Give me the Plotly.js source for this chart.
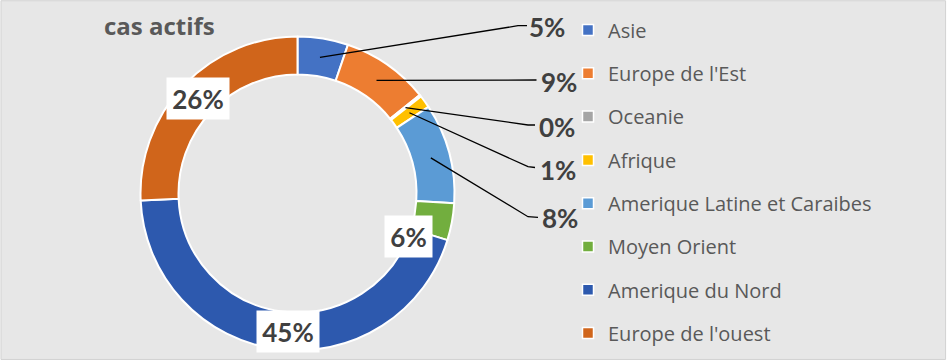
<!DOCTYPE html>
<html>
<head>
<meta charset="utf-8">
<script src="https://cdn.plot.ly/plotly-3.0.1.min.js"></script>
<style>
  html, body { margin: 0; padding: 0; background: #ffffff; }
  #chart { width: 947px; height: 362px; }
</style>
</head>
<body>
<div id="chart"></div>
<script>
// ---- data ----
const categories = ["Asie", "Europe de l'Est", "Oceanie", "Afrique",
  "Amerique Latine et Caraibes", "Moyen Orient", "Amerique du Nord", "Europe de l'ouest"];
const shares = [5.2, 9.0, 0.2, 1.3, 10.3, 3.8, 44.5, 25.7];
const pctLabels = ["5%", "9%", "0%", "1%", "8%", "6%", "45%", "26%"];
const sliceColors = ["#4472C4", "#ED7D31", "#A5A5A5", "#FFC000",
  "#5B9BD5", "#72AE3E", "#2D59AE", "#D0651B"];

// ---- layout constants (pixels) ----
const W = 947, H = 362;
const CX = 297.5, CY = 193.5, R_OUT = 157, R_IN = 119;
const R_MID = (R_OUT + R_IN) / 2;
// outside labels: leader-line bend points and label anchors
const outside = {
  0: { path: [[518, 25.7], [527, 25.7]], text: [528, 27] },
  1: { path: [[536.5, 80]], text: [539.5, 82] },
  2: { path: [[528, 125], [535, 125]], text: [538, 126.5] },
  3: { path: [[528, 166.7], [535, 167.5]], text: [538.5, 170] },
  4: { path: [[528, 216.7], [538, 217.3]], text: [541, 218] }
};
// inside labels: offsets from slice mid-point
const inside = { 5: [-25, 18], 6: [8, 1.3], 7: [0, 0] };

// slice mid-points from the values (clockwise from 12 o'clock)
const total = shares.reduce((a, b) => a + b, 0);
let cum = 0;
const mids = shares.map(v => {
  const a = (cum + v / 2) / total * 2 * Math.PI;
  cum += v;
  return [CX + R_MID * Math.sin(a), CY - R_MID * Math.cos(a)];
});

const labelFont = { family: "Lato, 'Open Sans', sans-serif", size: 26, color: "#404040", weight: 700 };

const shapes = [{
  type: "rect", xref: "paper", yref: "paper", x0: 0.001, x1: 0.9985, y0: 0.007, y1: 0.998,
  fillcolor: "#E7E7E7", line: { color: "#D2D2D2", width: 1 }, layer: "below"
}];
const annotations = [];

Object.keys(outside).forEach(k => {
  const i = +k, o = outside[k];
  const pts = [mids[i]].concat(o.path);
  const d = pts.map((p, j) => (j ? "L" : "M") + p[0].toFixed(2) + "," + p[1].toFixed(2)).join(" ");
  shapes.push({ type: "path", xref: "x", yref: "y", path: d, line: { color: "#000000", width: 1.3 }, layer: "above" });
  annotations.push({
    xref: "x", yref: "y", x: o.text[0], y: o.text[1], xanchor: "left", yanchor: "middle",
    text: pctLabels[i], showarrow: false, font: labelFont, borderpad: 0
  });
});
Object.keys(inside).forEach(k => {
  const i = +k, off = inside[k];
  annotations.push({
    xref: "x", yref: "y", x: mids[i][0] + off[0], y: mids[i][1] + off[1],
    xanchor: "center", yanchor: "middle",
    text: pctLabels[i], showarrow: false, font: labelFont,
    bgcolor: "#FFFFFF", borderpad: 4,
    width: pctLabels[i].length > 2 ? 54 : 39, height: 33
  });
});

const pie = {
  type: "pie",
  labels: categories,
  values: shares,
  marker: { colors: sliceColors, line: { color: "#FFFFFF", width: 2 } },
  hole: R_IN / R_OUT,
  sort: false,
  direction: "clockwise",
  rotation: 0,
  textinfo: "none",
  hoverinfo: "label+percent",
  showlegend: false,
  domain: { x: [(CX - R_OUT) / W, (CX + R_OUT) / W], y: [(H - CY - R_OUT) / H, (H - CY + R_OUT) / H] }
};

// legend entries (one per category, same colours as the slices)
const legendTraces = categories.map((c, i) => ({
  type: "scatter", mode: "markers", x: [null], y: [null], name: c,
  legendgroup: "g" + i, showlegend: true, hoverinfo: "skip",
  marker: { symbol: "square", size: 11, color: sliceColors[i], line: { color: "#FFFFFF", width: 1.5 } }
}));

const layout = {
  width: W, height: H,
  margin: { l: 0, r: 0, t: 0, b: 0 },
  paper_bgcolor: "#FFFFFF",
  plot_bgcolor: "rgba(0,0,0,0)",
  title: {
    text: "cas actifs", x: 104 / W, xanchor: "left", xref: "paper",
    y: 1 - 27 / H, yanchor: "middle", yref: "container",
    font: { family: "'Open Sans', sans-serif", size: 24, color: "#595959", weight: 700 }
  },
  xaxis: { range: [0, W], visible: false, fixedrange: true },
  yaxis: { range: [H, 0], visible: false, fixedrange: true },
  showlegend: true,
  legend: {
    x: 568 / W, xanchor: "left", y: 1 - 10.5 / H, yanchor: "top",
    traceorder: "grouped", tracegroupgap: 14.3,
    font: { family: "'Open Sans', sans-serif", size: 20, color: "#595959" },
    bgcolor: "rgba(0,0,0,0)", borderwidth: 0
  },
  shapes: shapes,
  annotations: annotations
};

Plotly.newPlot("chart", [pie].concat(legendTraces), layout, { displayModeBar: false, staticPlot: true });
</script>
</body>
</html>
